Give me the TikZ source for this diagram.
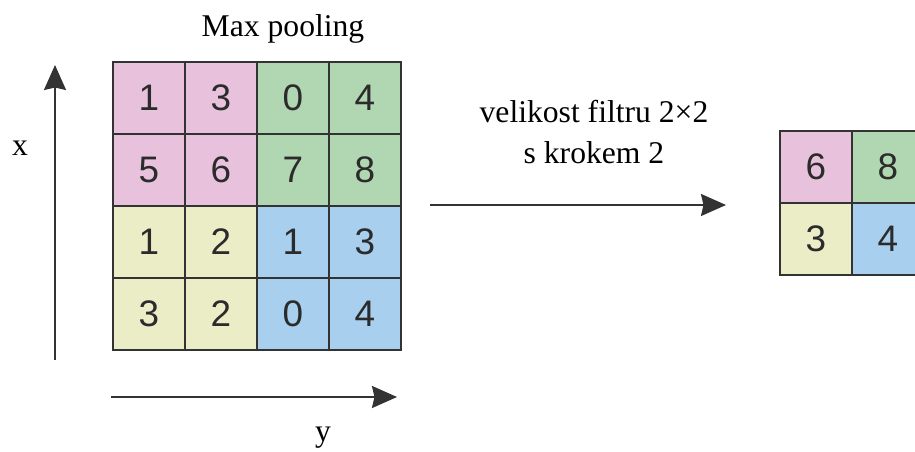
\documentclass[tikz,border=0pt]{standalone}
\usepackage{fontspec}
\setmainfont{Liberation Serif}
\newfontfamily\cellfont{Liberation Sans}
\usetikzlibrary{arrows.meta,positioning}
\definecolor{poolpink}{HTML}{E8C2DC}
\definecolor{poolgreen}{HTML}{B0D6B2}
\definecolor{poolyellow}{HTML}{EAEDC6}
\definecolor{poolblue}{HTML}{A8CFEE}
\definecolor{gridline}{HTML}{333333}
\definecolor{digitgray}{HTML}{2B2B2B}

\begin{document}
\begin{tikzpicture}[
  cell/.style={draw=gridline, line width=1.1pt, minimum size=1.44cm, inner sep=0pt, font=\cellfont\fontsize{21}{21}\selectfont, text=digitgray},
  arrow/.style={-{Stealth[length=0.5cm, width=0.44cm, inset=0.05cm]}, line width=1.1pt, gridline},
  label/.style={font=\fontsize{18}{23}\selectfont, align=center}
]
  \useasboundingbox (0,0) rectangle (18.3,9.02);

  % 4x4 input, one row per loop
  \foreach \v/\c [count=\j from 0] in {1/poolpink,3/poolpink,0/poolgreen,4/poolgreen}
    \node[cell, fill=\c] (a1\j) at (2.98+1.44*\j, 7.06) {\v};
  \foreach \v/\c [count=\j from 0] in {5/poolpink,6/poolpink,7/poolgreen,8/poolgreen}
    \node[cell, fill=\c] (a2\j) at (2.98+1.44*\j, 5.62) {\v};
  \foreach \v/\c [count=\j from 0] in {1/poolyellow,2/poolyellow,1/poolblue,3/poolblue}
    \node[cell, fill=\c] (a3\j) at (2.98+1.44*\j, 4.18) {\v};
  \foreach \v/\c [count=\j from 0] in {3/poolyellow,2/poolyellow,0/poolblue,4/poolblue}
    \node[cell, fill=\c] (a4\j) at (2.98+1.44*\j, 2.74) {\v};

  % 2x2 output
  \node[cell, fill=poolpink] (b11) at (16.32, 5.68) {6};
  \node[cell, fill=poolgreen] (b12) at (17.76, 5.68) {8};
  \node[cell, fill=poolyellow] (b21) at (16.32, 4.24) {3};
  \node[cell, fill=poolblue] (b22) at (17.76, 4.24) {4};

  \node[label] (title) at (5.66, 8.44) {Max pooling};
  \node[label] (filter) at (11.88, 6.38) {velikost filtru 2×2\\s krokem 2};

  % axes
  \coordinate (xfrom) at (1.1, 1.82);
  \coordinate (xto) at (1.1, 7.72);
  \coordinate (yfrom) at (2.22, 1.08);
  \coordinate (yto) at (7.94, 1.08);
  \draw[arrow] (xfrom) -- (xto);
  \draw[arrow] (yfrom) -- (yto);
  \node[label] (xlab) at (0.4, 6.06) {x};
  \node[label] (ylab) at (6.46, 0.26) {y};

  \coordinate (poolfrom) at (8.6, 4.92);
  \coordinate (poolto) at (14.52, 4.92);
  \draw[arrow] (poolfrom) -- (poolto);
\end{tikzpicture}
\end{document}
